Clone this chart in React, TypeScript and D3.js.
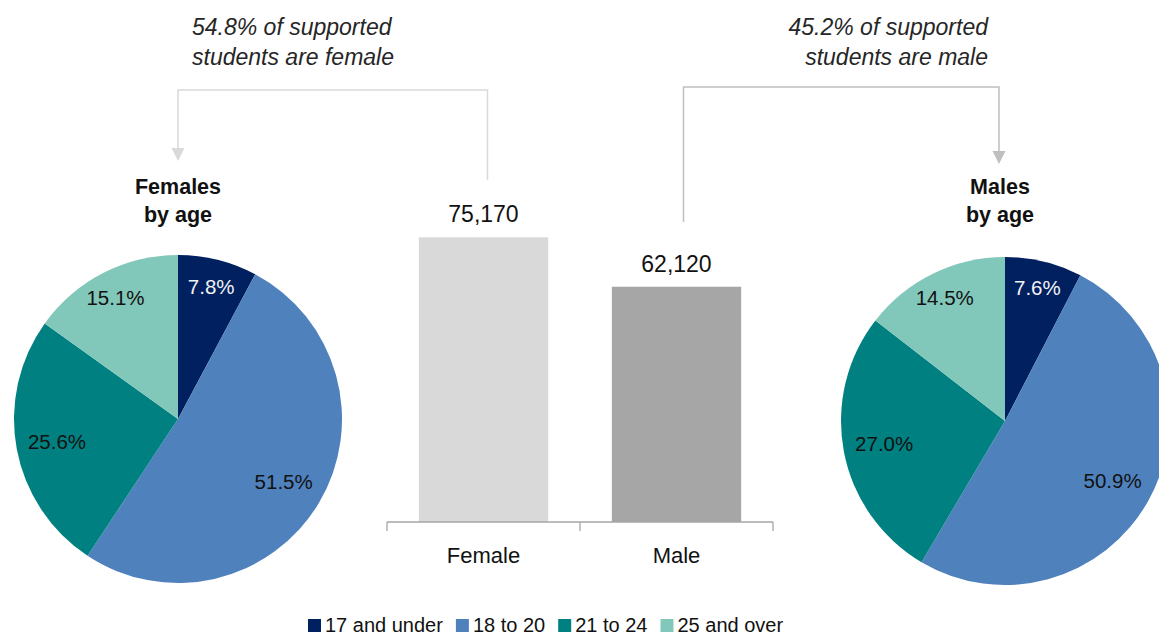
import React, { useEffect, useRef } from "react";
import * as d3 from "d3";

const ageGroups = ["17 and under", "18 to 20", "21 to 24", "25 and over"];
const ageColors = ["#002060", "#4f81bd", "#008080", "#82c8ba"];
const femaleShares = [7.8, 51.5, 25.6, 15.1];
const maleShares = [7.6, 50.9, 27.0, 14.5];
const genders = ["Female", "Male"];
const genderCounts = [75170, 62120];
const genderColors = ["#d9d9d9", "#a6a6a6"];
const femaleNote = ["54.8% of supported", "students are female"];
const maleNote = ["45.2% of supported", "students are male"];
const femaleTitle = ["Females", "by age"];
const maleTitle = ["Males", "by age"];

const W = 1159;
const H = 637;
const FONT = "'Liberation Sans', Arial, sans-serif";

export default function App() {
  const ref = useRef<SVGSVGElement | null>(null);

  useEffect(() => {
    const svg = d3.select(ref.current);
    svg.selectAll("*").remove();

    // ---- Pies ----
    const R = 164;
    const pie = d3.pie<number>().sort(null).value((d) => d);
    const arc = d3.arc<d3.PieArcDatum<number>>().innerRadius(0).outerRadius(R);

    const drawPie = (cx: number, cy: number, values: number[]) => {
      const g = svg.append("g").attr("transform", `translate(${cx},${cy})`);
      const arcs = pie(values);
      g.selectAll("path")
        .data(arcs)
        .enter()
        .append("path")
        .attr("d", arc as any)
        .attr("fill", (_d, i) => ageColors[i]);
      g.selectAll("text")
        .data(arcs)
        .enter()
        .append("text")
        .attr("transform", (d) => {
          const lr = d.data < 20 ? R * 0.835 : R * 0.75;
          const c = d3.arc<d3.PieArcDatum<number>>().innerRadius(lr).outerRadius(lr).centroid(d);
          return `translate(${c[0]},${c[1]})`;
        })
        .attr("text-anchor", "middle")
        .attr("dy", "0.36em")
        .attr("font-family", FONT)
        .attr("font-size", 20.5)
        .attr("fill", (_d, i) => (i === 0 ? "#f2f2f2" : "#111"))
        .text((d) => `${d.data.toFixed(1)}%`);
    };
    drawPie(178, 419, femaleShares);
    drawPie(1005, 421, maleShares);

    // ---- Bars ----
    const x = d3.scaleBand<string>().domain(genders).range([387, 773]).paddingInner(0.33).paddingOuter(0.165);
    const y = d3.scaleLinear().domain([0, 80000]).range([522, 219]);

    const bars = svg.append("g");
    bars
      .selectAll("rect")
      .data(genders)
      .enter()
      .append("rect")
      .attr("x", (d) => x(d)!)
      .attr("width", x.bandwidth())
      .attr("y", (_d, i) => y(genderCounts[i]))
      .attr("height", (_d, i) => y(0) - y(genderCounts[i]))
      .attr("fill", (_d, i) => genderColors[i]);
    bars
      .selectAll("text.val")
      .data(genders)
      .enter()
      .append("text")
      .attr("class", "val")
      .attr("x", (d) => x(d)! + x.bandwidth() / 2)
      .attr("y", (_d, i) => y(genderCounts[i]) - 15)
      .attr("text-anchor", "middle")
      .attr("font-family", FONT)
      .attr("font-size", 23)
      .attr("fill", "#111")
      .text((_d, i) => d3.format(",")(genderCounts[i]));

    // axis
    const axisG = svg.append("g");
    const [r0, r1] = x.range();
    axisG
      .append("line")
      .attr("x1", r0)
      .attr("x2", r1)
      .attr("y1", y(0))
      .attr("y2", y(0))
      .attr("stroke", "#a6a6a6")
      .attr("stroke-width", 1.3);
    const tickXs = [r0, ...genders.slice(1).map((g) => x(g)! - (x.step() * x.paddingInner()) / 2), r1];
    tickXs.forEach((tx) => {
      axisG
        .append("line")
        .attr("x1", tx)
        .attr("x2", tx)
        .attr("y1", y(0))
        .attr("y2", y(0) + 9)
        .attr("stroke", "#a6a6a6")
        .attr("stroke-width", 1.3);
    });
    axisG
      .selectAll("text")
      .data(genders)
      .enter()
      .append("text")
      .attr("x", (d) => x(d)! + x.bandwidth() / 2)
      .attr("y", 563)
      .attr("text-anchor", "middle")
      .attr("font-family", FONT)
      .attr("font-size", 22)
      .attr("fill", "#111")
      .text((d) => d);

    // ---- Connectors ----
    const femaleBarX = x("Female")! + x.bandwidth() / 2 + 4;
    const maleBarX = x("Male")! + x.bandwidth() / 2 + 7;
    const conn = svg.append("g").attr("fill", "none");
    conn
      .append("path")
      .attr("d", `M${femaleBarX},180 V90 H178 V150`)
      .attr("stroke", "#d9d9d9")
      .attr("stroke-width", 1.5);
    svg
      .append("path")
      .attr("d", `M171.5,148 L184.5,148 L178,161 Z`)
      .attr("fill", "#d9d9d9");
    conn
      .append("path")
      .attr("d", `M${maleBarX},222 V87 H999 V154`)
      .attr("stroke", "#bfbfbf")
      .attr("stroke-width", 1.5);
    svg
      .append("path")
      .attr("d", `M992.5,151 L1005.5,151 L999,164 Z`)
      .attr("fill", "#bfbfbf");

    // ---- Notes ----
    const note = (lines: string[], xPos: number, anchor: string) => {
      lines.forEach((t, i) => {
        svg
          .append("text")
          .attr("x", xPos)
          .attr("y", 35 + i * 30)
          .attr("text-anchor", anchor)
          .attr("font-family", FONT)
          .attr("font-style", "italic")
          .attr("font-size", 23)
          .attr("fill", "#262626")
          .text(t);
      });
    };
    note(femaleNote, 192, "start");
    note(maleNote, 988, "end");

    const title = (lines: string[], xPos: number) => {
      lines.forEach((t, i) => {
        svg
          .append("text")
          .attr("x", xPos)
          .attr("y", 194 + i * 28)
          .attr("text-anchor", "middle")
          .attr("font-family", FONT)
          .attr("font-weight", "bold")
          .attr("font-size", 21.5)
          .attr("fill", "#111")
          .text(t);
      });
    };
    title(femaleTitle, 178);
    title(maleTitle, 1000);

    // ---- Legend ----
    const leg = svg.append("g");
    let lx = 308;
    ageGroups.forEach((name, i) => {
      leg
        .append("rect")
        .attr("x", lx)
        .attr("y", 619)
        .attr("width", 13)
        .attr("height", 13)
        .attr("fill", ageColors[i]);
      const t = leg
        .append("text")
        .attr("x", lx + 17)
        .attr("y", 632)
        .attr("font-family", FONT)
        .attr("font-size", 20)
        .attr("fill", "#111")
        .text(name);
      const w = (t.node() as SVGTextElement).getComputedTextLength();
      lx += 17 + w + 13;
    });
  }, []);

  return (
    <svg
      ref={ref}
      width={W}
      height={H}
      style={{ position: "absolute", left: 0, top: 0, background: "#fff" }}
    />
  );
}
